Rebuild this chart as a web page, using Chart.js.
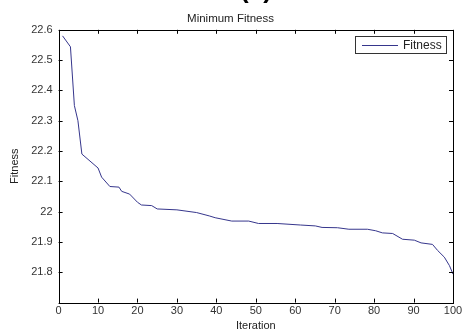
<!DOCTYPE html>
<html>
<head>
<meta charset="utf-8">
<script src="https://cdn.jsdelivr.net/npm/chart.js@4.4.0/dist/chart.umd.min.js"></script>
<style>
  html, body { margin: 0; padding: 0; background: #fff; }
  #wrap { width: 469px; height: 331px; }
</style>
</head>
<body>
<div id="wrap"><canvas id="fitnessChart" width="469" height="331"></canvas></div>
<script>
// values (iteration -> minimum fitness)
const iterations = [1, 3, 4, 4.9, 5.9, 10, 10.9, 13, 15.3, 16, 18, 20, 21, 23.6, 25, 30, 35, 38.2, 39.7,
  43.9, 48.2, 50.7, 55.4, 61.3, 65.1, 66.8, 70.7, 73.6, 78.3, 80.4, 82.1, 84.7, 87.2, 90.2, 91.9,
  94.8, 96.1, 97.8, 99.1, 100];
const fitness = [22.58, 22.544, 22.35, 22.3, 22.19, 22.144, 22.114, 22.083, 22.081, 22.067, 22.058,
  22.031, 22.022, 22.02, 22.009, 22.006, 21.997, 21.986, 21.98, 21.969, 21.969, 21.961, 21.961,
  21.956, 21.953, 21.948, 21.947, 21.942, 21.942, 21.937, 21.93, 21.928, 21.909, 21.906, 21.897,
  21.892, 21.872, 21.85, 21.822, 21.794];
const xTicks = [0, 10, 20, 30, 40, 50, 60, 70, 80, 90, 100];
const yTicks = [21.7, 21.8, 21.9, 22, 22.1, 22.2, 22.3, 22.4, 22.5, 22.6];

const points = iterations.map((it, i) => ({ x: it, y: fitness[i] }));
const fontFamily = 'Arial, "Liberation Sans", sans-serif';

// box + inward ticks on all four sides, like the old matlab axes
const boxPlugin = {
  id: 'boxPlugin',
  afterDraw(chart) {
    const ctx = chart.ctx;
    const a = chart.chartArea;
    const xs = chart.scales.x, ys = chart.scales.y;
    ctx.save();
    ctx.strokeStyle = '#000';
    ctx.lineWidth = 1;
    ctx.strokeRect(Math.round(a.left) + 0.5, Math.round(a.top) + 0.5,
      Math.round(a.right - a.left), Math.round(a.bottom - a.top));
    ctx.beginPath();
    xTicks.forEach(v => {
      const px = Math.round(xs.getPixelForValue(v)) + 0.5;
      ctx.moveTo(px, a.bottom); ctx.lineTo(px, a.bottom - 4);
      ctx.moveTo(px, a.top); ctx.lineTo(px, a.top + 4);
    });
    yTicks.forEach(v => {
      const py = Math.round(ys.getPixelForValue(v)) + 0.5;
      ctx.moveTo(a.left, py); ctx.lineTo(a.left + 4, py);
      ctx.moveTo(a.right, py); ctx.lineTo(a.right - 4, py);
    });
    ctx.stroke();

    // legend box in the top right corner
    const lx = 355, ly = 36, lw = 91, lh = 17;
    ctx.fillStyle = '#fff';
    ctx.fillRect(lx, ly, lw, lh);
    ctx.strokeStyle = '#333';
    ctx.strokeRect(lx + 0.5, ly + 0.5, lw, lh);
    ctx.strokeStyle = chart.data.datasets[0].borderColor;
    ctx.beginPath();
    ctx.moveTo(362, ly + 9.5); ctx.lineTo(398, ly + 9.5);
    ctx.stroke();
    ctx.fillStyle = '#222';
    ctx.font = '12px ' + fontFamily;
    ctx.textBaseline = 'middle';
    ctx.fillText(chart.data.datasets[0].label, 403, ly + 9.5);

    // panel letter, cut off at the top of the figure
    ctx.font = 'bold 26px ' + fontFamily;
    ctx.textAlign = 'center';
    ctx.textBaseline = 'alphabetic';
    ctx.fillStyle = '#000';
    ctx.fillText('(c)', 256, -2);
    ctx.restore();
  }
};

new Chart(document.getElementById('fitnessChart'), {
  type: 'line',
  data: {
    datasets: [{
      label: 'Fitness',
      data: points,
      borderColor: '#36368c',
      borderWidth: 1,
      pointRadius: 0,
      tension: 0,
      fill: false
    }]
  },
  options: {
    responsive: false,
    animation: false,
    layout: { padding: { top: 0, right: 16, bottom: -2, left: 8 } },
    plugins: {
      legend: { display: false },
      tooltip: { enabled: false },
      title: {
        display: true,
        text: 'Minimum Fitness',
        color: '#222',
        font: { size: 11.5, family: fontFamily, weight: 'normal' },
        padding: { top: 12, bottom: 4 }
      }
    },
    scales: {
      x: {
        type: 'linear',
        min: 0,
        max: 100,
        afterBuildTicks: axis => { axis.ticks = xTicks.map(v => ({ value: v })); },
        grid: { display: false, drawTicks: false },
        border: { display: false },
        ticks: {
          color: '#333',
          padding: 2,
          maxRotation: 0,
          font: { size: 11, family: fontFamily }
        },
        title: {
          display: true,
          text: 'Iteration',
          color: '#222',
          padding: { top: 0, bottom: 0 },
          font: { size: 11, family: fontFamily }
        }
      },
      y: {
        type: 'linear',
        min: 21.7,
        max: 22.6,
        afterBuildTicks: axis => { axis.ticks = yTicks.map(v => ({ value: v })); },
        grid: { display: false, drawTicks: false },
        border: { display: false },
        ticks: {
          color: '#333',
          padding: 6,
          font: { size: 11, family: fontFamily },
          callback: v => (Math.abs(v - 21.7) < 1e-6 ? '' : String(Math.round(v * 10) / 10))
        },
        title: {
          display: true,
          text: 'Fitness',
          color: '#222',
          padding: { top: 0, bottom: 4 },
          font: { size: 11, family: fontFamily }
        }
      }
    }
  },
  plugins: [boxPlugin]
});
</script>
</body>
</html>
